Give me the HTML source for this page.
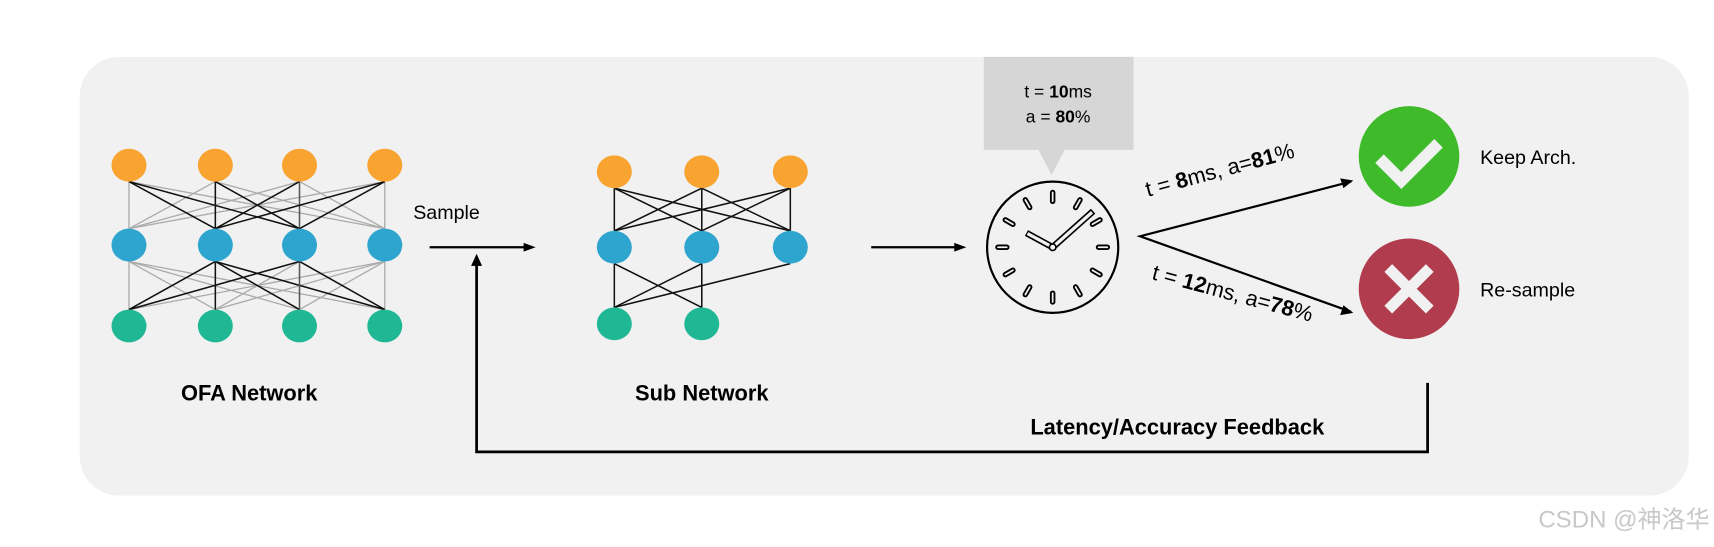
<!DOCTYPE html>
<html><head><meta charset="utf-8"><style>
html,body{margin:0;padding:0;background:#fff;width:1714px;height:547px;overflow:hidden}
svg{display:block}
text{font-family:"Liberation Sans","Noto Sans CJK SC",sans-serif}
</style></head><body>
<svg width="1714" height="547" viewBox="0 0 1568 500" preserveAspectRatio="none" xmlns="http://www.w3.org/2000/svg">
<rect x="73" y="52" width="1472" height="401" rx="36" fill="#f0f1f0"/>
<!-- OFA gray -->
<g stroke="#aaa" stroke-width="1.2">
<line x1="118" y1="166" x2="118" y2="209"/><line x1="118" y1="166" x2="352" y2="209"/>
<line x1="197" y1="166" x2="118" y2="209"/><line x1="197" y1="166" x2="352" y2="209"/>
<line x1="274" y1="166" x2="118" y2="209"/><line x1="274" y1="166" x2="352" y2="209"/>
<line x1="352" y1="166" x2="118" y2="209"/><line x1="352" y1="166" x2="352" y2="209"/>
<line x1="118" y1="239" x2="118" y2="283"/><line x1="118" y1="239" x2="197" y2="283"/><line x1="118" y1="239" x2="274" y2="283"/><line x1="118" y1="239" x2="352" y2="283"/>
<line x1="352" y1="239" x2="118" y2="283"/><line x1="352" y1="239" x2="197" y2="283"/><line x1="352" y1="239" x2="274" y2="283"/><line x1="352" y1="239" x2="352" y2="283"/>
<line x1="274" y1="239" x2="197" y2="283"/>
</g>
<g stroke="#111" stroke-width="1.4">
<line x1="118" y1="166" x2="197" y2="209"/><line x1="118" y1="166" x2="274" y2="209"/>
<line x1="197" y1="166" x2="197" y2="209"/><line x1="197" y1="166" x2="274" y2="209"/>
<line x1="274" y1="166" x2="197" y2="209"/><line x1="274" y1="166" x2="274" y2="209" stroke="#555"/>
<line x1="352" y1="166" x2="197" y2="209"/><line x1="352" y1="166" x2="274" y2="209"/>
<line x1="197" y1="239" x2="118" y2="283"/><line x1="197" y1="239" x2="197" y2="283"/><line x1="197" y1="239" x2="274" y2="283"/><line x1="197" y1="239" x2="352" y2="283"/>
<line x1="274" y1="239" x2="118" y2="283"/><line x1="274" y1="239" x2="274" y2="283" stroke="#555"/><line x1="274" y1="239" x2="352" y2="283"/>
</g>
<g fill="#f9a331"><ellipse cx="118" cy="151" rx="16" ry="15"/><ellipse cx="197" cy="151" rx="16" ry="15"/><ellipse cx="274" cy="151" rx="16" ry="15"/><ellipse cx="352" cy="151" rx="16" ry="15"/></g>
<g fill="#2ea5ce"><ellipse cx="118" cy="224" rx="16" ry="15"/><ellipse cx="197" cy="224" rx="16" ry="15"/><ellipse cx="274" cy="224" rx="16" ry="15"/><ellipse cx="352" cy="224" rx="16" ry="15"/></g>
<g fill="#20b795"><ellipse cx="118" cy="298" rx="16" ry="15"/><ellipse cx="197" cy="298" rx="16" ry="15"/><ellipse cx="274" cy="298" rx="16" ry="15"/><ellipse cx="352" cy="298" rx="16" ry="15"/></g>
<text x="228" y="366" font-size="20" font-weight="bold" text-anchor="middle">OFA Network</text>
<!-- Sub network -->
<g stroke="#111" stroke-width="1.4">
<line x1="562" y1="172" x2="562" y2="211"/><line x1="562" y1="172" x2="642" y2="211"/><line x1="562" y1="172" x2="723" y2="211"/>
<line x1="642" y1="172" x2="562" y2="211"/><line x1="642" y1="172" x2="642" y2="211"/><line x1="642" y1="172" x2="723" y2="211"/>
<line x1="723" y1="172" x2="562" y2="211"/><line x1="723" y1="172" x2="642" y2="211"/><line x1="723" y1="172" x2="723" y2="211"/>
<line x1="562" y1="241" x2="562" y2="281"/><line x1="562" y1="241" x2="642" y2="281"/>
<line x1="642" y1="241" x2="562" y2="281"/><line x1="642" y1="241" x2="642" y2="281"/>
<line x1="723" y1="241" x2="562" y2="281"/>
</g>
<g fill="#f9a331"><ellipse cx="562" cy="157" rx="16" ry="15"/><ellipse cx="642" cy="157" rx="16" ry="15"/><ellipse cx="723" cy="157" rx="16" ry="15"/></g>
<g fill="#2ea5ce"><ellipse cx="562" cy="226" rx="16" ry="15"/><ellipse cx="642" cy="226" rx="16" ry="15"/><ellipse cx="723" cy="226" rx="16" ry="15"/></g>
<g fill="#20b795"><ellipse cx="562" cy="296" rx="16" ry="15"/><ellipse cx="642" cy="296" rx="16" ry="15"/></g>
<text x="642" y="366" font-size="20" font-weight="bold" text-anchor="middle">Sub Network</text>
<!-- arrows -->
<text x="378" y="200" font-size="18">Sample</text>
<line x1="393" y1="226" x2="482" y2="226" stroke="#000" stroke-width="2"/>
<path d="M490,226 l-11,-4 l0,8 z" fill="#000"/>
<line x1="797" y1="226" x2="876" y2="226" stroke="#000" stroke-width="2"/>
<path d="M884,226 l-11,-4 l0,8 z" fill="#000"/>
<!-- bubble -->
<rect x="900" y="52" width="137" height="85" fill="#d6d6d6"/>
<path d="M950,137 L974,137 L962,160 z" fill="#d6d6d6"/>
<text x="968" y="89" font-size="16" text-anchor="middle">t = <tspan font-weight="bold">10</tspan>ms</text>
<text x="968" y="112" font-size="16" text-anchor="middle">a = <tspan font-weight="bold">80</tspan>%</text>
<!-- clock -->
<circle cx="963" cy="226" r="60" fill="none" stroke="#000" stroke-width="2"/>
<g transform="translate(963,226)" stroke-linecap="round">
<g id="tk"><line x1="0" y1="-50" x2="0" y2="-42" stroke="#000" stroke-width="5"/><line x1="0" y1="-50" x2="0" y2="-42" stroke="#f0f1f0" stroke-width="1.6"/></g>
<use href="#tk" transform="rotate(30)"/><use href="#tk" transform="rotate(60)"/><use href="#tk" transform="rotate(90)"/><use href="#tk" transform="rotate(120)"/><use href="#tk" transform="rotate(150)"/><use href="#tk" transform="rotate(180)"/><use href="#tk" transform="rotate(210)"/><use href="#tk" transform="rotate(240)"/><use href="#tk" transform="rotate(270)"/><use href="#tk" transform="rotate(300)"/><use href="#tk" transform="rotate(330)"/>
</g>
<g transform="translate(963,226)" fill="none">
<line x1="0" y1="0" x2="-24" y2="-13" stroke="#000" stroke-width="6"/>
<line x1="0" y1="0" x2="-23" y2="-12.5" stroke="#f0f1f0" stroke-width="3"/>
<line x1="0" y1="0" x2="37" y2="-33" stroke="#000" stroke-width="6"/>
<line x1="0" y1="0" x2="36" y2="-32" stroke="#f0f1f0" stroke-width="3"/>
<circle cx="0" cy="0" r="3" fill="#f0f1f0" stroke="#000" stroke-width="1.5"/>
</g>
<!-- branch -->
<polyline points="1236,166 1043,216 1236,285" fill="none" stroke="#000" stroke-width="2"/>
<path d="M1238,165 l-12,-2 l3,9 z" fill="#000"/>
<path d="M1238,286 l-9,-7 l-3,9 z" fill="#000"/>
<text transform="translate(1050,180) rotate(-15)" font-size="20">t = <tspan font-weight="bold">8</tspan>ms, a=<tspan font-weight="bold">81</tspan>%</text>
<text transform="translate(1053,255) rotate(15)" font-size="20">t = <tspan font-weight="bold">12</tspan>ms, a=<tspan font-weight="bold">78</tspan>%</text>
<!-- icons -->
<circle cx="1289" cy="143" r="46" fill="#3fba2b"/>
<polyline points="1262,145 1282,165 1316,131" fill="none" stroke="#f0f1f0" stroke-width="11"/>
<circle cx="1289" cy="264" r="46" fill="#b03c4d"/>
<g stroke="#f0f1f0" stroke-width="10"><line x1="1270" y1="245" x2="1308" y2="283"/><line x1="1308" y1="245" x2="1270" y2="283"/></g>
<text x="1354" y="150" font-size="18">Keep Arch.</text>
<text x="1354" y="271" font-size="18">Re-sample</text>
<!-- feedback -->
<polyline points="1306,350 1306,413 436,413 436,240" fill="none" stroke="#000" stroke-width="2.5"/>
<path d="M436,232 l-5,11 l10,0 z" fill="#000"/>
<text x="1077" y="397" font-size="20" font-weight="bold" text-anchor="middle">Latency/Accuracy Feedback</text>
<text x="1564" y="482" font-size="22" fill="#c8c8c8" text-anchor="end">CSDN @神洛华</text>
</svg>
</body></html>
